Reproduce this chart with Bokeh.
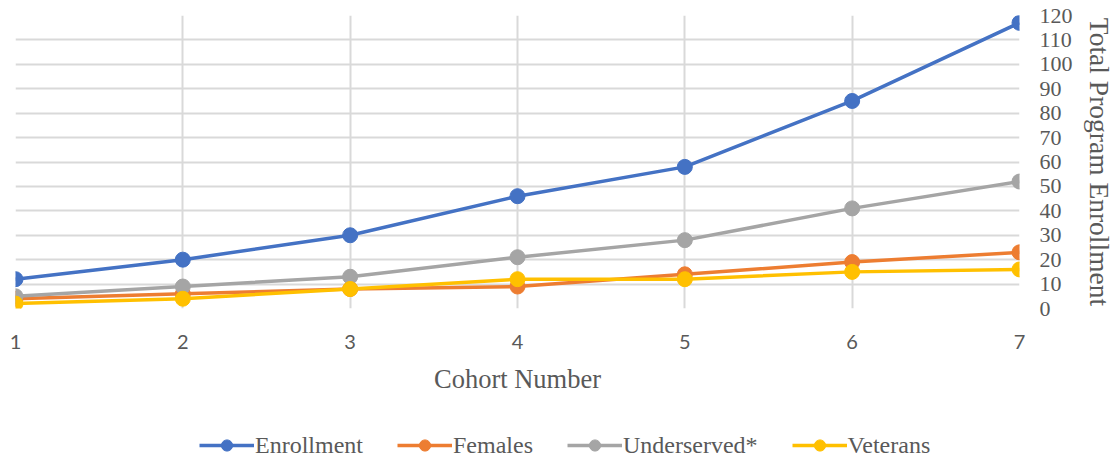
from bokeh.plotting import figure
from bokeh.layouts import column
from bokeh.models import ColumnDataSource, Legend, LegendItem, FixedTicker, Range1d
from bokeh.embed import file_html
from bokeh.resources import INLINE

cohort = [1, 2, 3, 4, 5, 6, 7]
enrollment = [12, 20, 30, 46, 58, 85, 117]
females = [4, 6, 8, 9, 14, 19, 23]
underserved = [5, 9, 13, 21, 28, 41, 52]
veterans = [2, 4, 8, 12, 12, 15, 16]
y_ticks = list(range(0, 121, 10))

series = [
    ("Enrollment", enrollment, "#4472C4"),
    ("Females", females, "#ED7D31"),
    ("Underserved*", underserved, "#A5A5A5"),
    ("Veterans", veterans, "#FFC000"),
]

serif = "Liberation Serif"
LW = 3.5
MS = 15

p = figure(width=1117, height=419, output_backend="svg", toolbar_location=None,
           x_range=Range1d(1, 7), y_range=Range1d(0, 120),
           y_axis_location="right",
           min_border_left=15, min_border_right=98, min_border_top=15, min_border_bottom=111)
p.outline_line_color = None
p.background_fill_color = "white"

for name, vals, col in series:
    src = ColumnDataSource(dict(x=cohort, y=vals))
    p.line("x", "y", source=src, line_color=col, line_width=LW)
    p.scatter("x", "y", source=src, size=MS, fill_color=col, line_color=col)

p.xaxis.ticker = FixedTicker(ticks=cohort)
p.xaxis.axis_line_color = None
p.xaxis.major_tick_line_color = None
p.xaxis.minor_tick_line_color = None
p.xaxis.major_label_text_font = "Lato"
p.xaxis.major_label_text_font_size = "20px"
p.xaxis.major_label_text_color = "#595959"
p.xaxis.major_label_standoff = 20
p.xaxis.axis_label = "Cohort Number"
p.xaxis.axis_label_text_font = serif
p.xaxis.axis_label_text_font_size = "26.5px"
p.xaxis.axis_label_text_font_style = "normal"
p.xaxis.axis_label_text_color = "#595959"
p.xaxis.axis_label_standoff = 12

p.yaxis.ticker = FixedTicker(ticks=y_ticks)
p.yaxis.axis_line_color = None
p.yaxis.major_tick_line_color = None
p.yaxis.minor_tick_line_color = None
p.yaxis.major_label_text_font = serif
p.yaxis.major_label_text_font_size = "22px"
p.yaxis.major_label_text_color = "#595959"
p.yaxis.major_label_standoff = 14
p.yaxis.axis_label = "Total Program Enrollment"
p.yaxis.axis_label_text_font = serif
p.yaxis.axis_label_text_font_size = "27.5px"
p.yaxis.axis_label_text_font_style = "normal"
p.yaxis.axis_label_text_color = "#595959"
p.yaxis.axis_label_standoff = 8
try:
    p.yaxis.axis_label_orientation = "vertical"
except Exception:
    pass

p.xgrid.grid_line_color = "#D9D9D9"
p.xgrid.grid_line_width = 2
p.ygrid.grid_line_color = "#D9D9D9"
p.ygrid.grid_line_width = 2

# legend strip below the chart (legend-only renderers hold no visible data)
lp = figure(width=1117, height=40, output_backend="svg", toolbar_location=None,
            x_range=Range1d(0, 1), y_range=Range1d(0, 1),
            min_border_left=0, min_border_right=0, min_border_top=0, min_border_bottom=0)
lp.axis.visible = False
lp.grid.visible = False
lp.outline_line_color = None
items = []
nan = float("nan")
for name, vals, col in series:
    src = ColumnDataSource(dict(x=[nan], y=[nan]))
    l = lp.line("x", "y", source=src, line_color=col, line_width=LW)
    c = lp.scatter("x", "y", source=src, size=MS, fill_color=col, line_color=col)
    items.append(LegendItem(label=name, renderers=[l, c]))

legend = Legend(items=items, orientation="horizontal", location=(184, 0))
legend.label_text_font = serif
legend.label_text_font_size = "24px"
legend.label_text_color = "#595959"
legend.glyph_width = 55
legend.glyph_height = 28
legend.label_height = 28
legend.label_standoff = 1
legend.spacing = 34
legend.padding = 0
legend.margin = 0
legend.border_line_color = None
legend.background_fill_alpha = 0
lp.add_layout(legend, "center")

layout = column(p, lp, spacing=0)
open("out.html", "w").write(file_html(layout, INLINE))
